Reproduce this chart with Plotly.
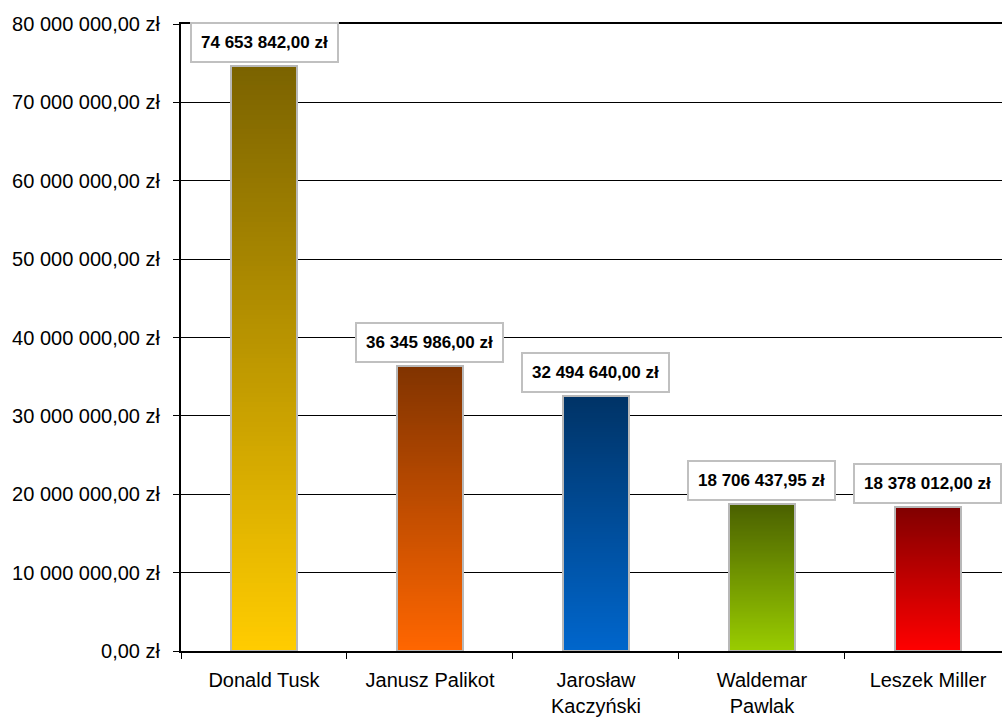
import plotly.graph_objects as go

# Data
politicians = ["Donald Tusk", "Janusz Palikot", "Jarosław<br>Kaczyński", "Waldemar<br>Pawlak", "Leszek Miller"]
amounts = [74653842.00, 36345986.00, 32494640.00, 18706437.95, 18378012.00]
tick_values = [0, 10e6, 20e6, 30e6, 40e6, 50e6, 60e6, 70e6, 80e6]

# Gradient end colours per bar: (bottom, top)
bar_colors = [
    ((255, 204, 0), (122, 98, 0)),
    ((255, 102, 0), (128, 51, 0)),
    ((0, 102, 204), (0, 51, 102)),
    ((153, 204, 0), (74, 96, 0)),
    ((255, 0, 0), (128, 0, 0)),
]


def pln(v):
    s = f"{v:,.2f}".replace(",", " ").replace(".", ",")
    return s + " zł"


def lerp(c1, c2, t):
    return "rgb({},{},{})".format(*[round(a + (b - a) * t) for a, b in zip(c1, c2)])


FONT = "Arial, 'Liberation Sans', sans-serif"
BAR_W = 0.4
N = 120

fig = go.Figure()

# Gradient fill: stacked slices, each reaching to the bar top so no seams appear
for name, value, (c_bot, c_top) in zip(politicians, amounts, bar_colors):
    bases = [value * k / N for k in range(N)]
    heights = [value - b for b in bases]
    colors = [lerp(c_bot, c_top, k / N) for k in range(N)]
    fig.add_trace(go.Bar(
        x=[name] * N, y=heights, base=bases, width=BAR_W,
        marker=dict(color=colors, line=dict(width=0)),
        hoverinfo="skip", showlegend=False,
    ))

# Outline of each bar
fig.add_trace(go.Bar(
    x=politicians, y=amounts, width=BAR_W,
    marker=dict(color="rgba(0,0,0,0)", line=dict(color="#b8b8b8", width=2)),
    hoverinfo="skip", showlegend=False,
))

# Value labels
for name, value in zip(politicians, amounts):
    fig.add_annotation(
        x=name, y=value, text=f"<b>{pln(value)}</b>", showarrow=False,
        yanchor="bottom", yshift=3, width=141, height=33,
        bgcolor="white", bordercolor="#c0c0c0", borderwidth=2, borderpad=2,
        font=dict(family=FONT, size=17, color="black"),
    )

fig.update_layout(
    width=1002, height=720,
    margin=dict(l=181, r=0, t=24, b=69),
    paper_bgcolor="white", plot_bgcolor="white",
    barmode="overlay", bargap=0,
    font=dict(family=FONT, size=20, color="black"),
)

fig.update_xaxes(
    type="category", range=[-0.5, 4.446],
    showline=True, linecolor="black", linewidth=2, mirror=True,
    ticks="outside", tickson="boundaries", ticklen=6, tickcolor="black", tickwidth=1,
    ticklabelstandoff=10,
    showgrid=False, tickfont=dict(size=20),
)

fig.update_yaxes(
    range=[0, 80e6], tickvals=tick_values, ticktext=[pln(v) for v in tick_values],
    showline=True, linecolor="black", linewidth=2,
    ticks="outside", ticklen=6, tickcolor="black", tickwidth=1, ticklabelstandoff=9,
    showgrid=True, gridcolor="black", gridwidth=1, zeroline=False,
    tickfont=dict(size=20),
)

fig.write_html("out.html")
